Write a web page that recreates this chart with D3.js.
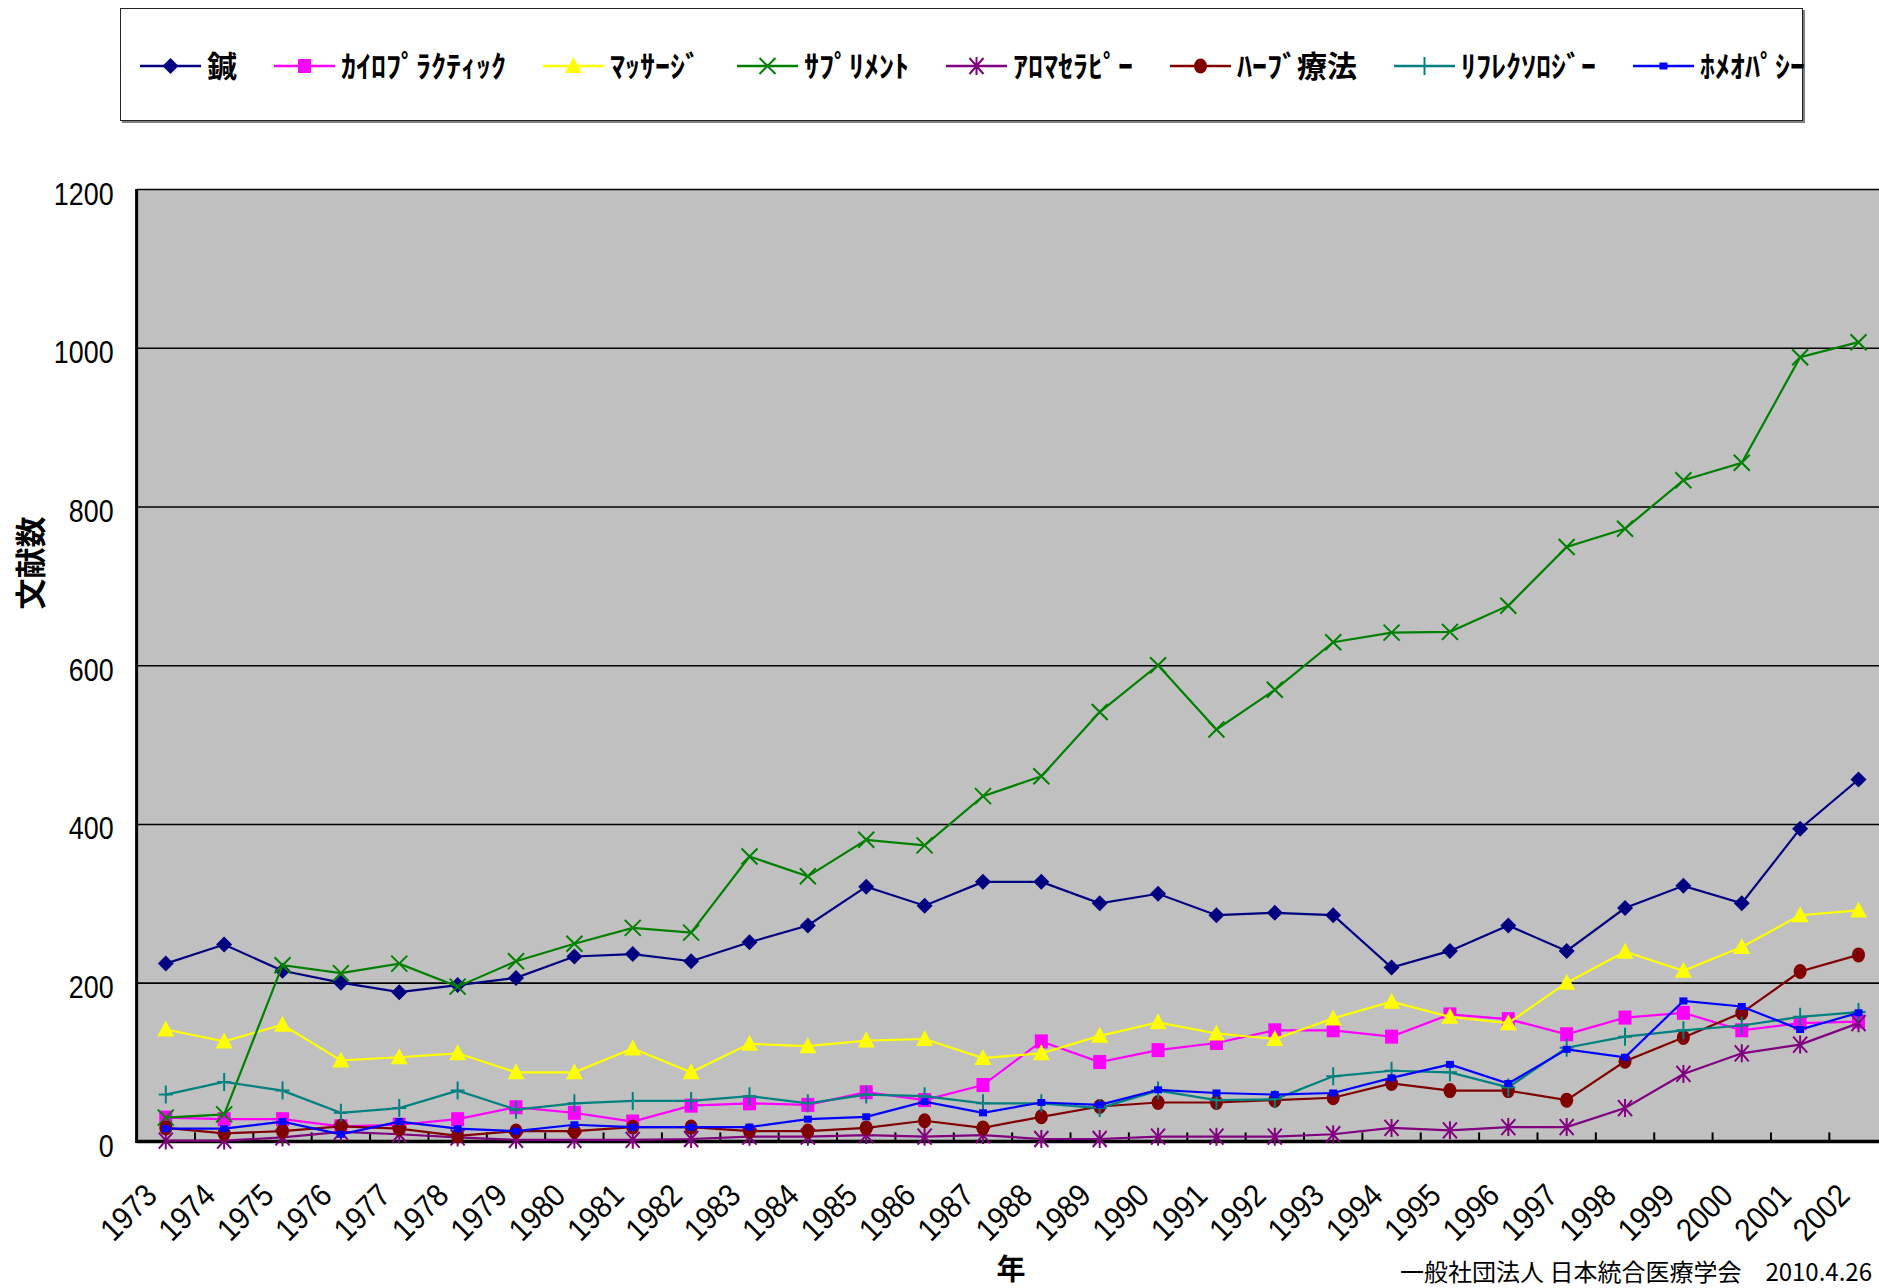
<!DOCTYPE html>
<html>
<head>
<meta charset="utf-8">
<script src="https://cdn.jsdelivr.net/npm/d3@7"></script>
<style>
  html, body { margin: 0; padding: 0; background: #fff; }
  svg { display: block; }
</style>
</head>
<body>
<svg id="chart" width="1879" height="1288"></svg>
<script>
var years = d3.range(1973, 2003);
var seriesNames = ["鍼", "ｶｲﾛﾌﾟﾗｸﾃｨｯｸ", "ﾏｯｻｰｼﾞ", "ｻﾌﾟﾘﾒﾝﾄ", "ｱﾛﾏｾﾗﾋﾟｰ", "ﾊｰﾌﾞ療法", "ﾘﾌﾚｸｿﾛｼﾞｰ", "ﾎﾒｵﾊﾟｼｰ"];

var hari       = [224, 248, 215, 200, 188, 197, 206, 233, 236, 227, 251, 272, 321, 297, 327, 327, 300, 312, 285, 288, 285, 219, 240, 272, 240, 294, 322, 300, 394, 456];
var chiro      = [30, 28, 28, 19, 21, 28, 43, 36, 25, 45, 48, 46, 62, 52, 71, 126, 100, 115, 124, 140, 140, 132, 160, 154, 135, 156, 162, 140, 149, 151];
var massage    = [141, 126, 147, 102, 106, 111, 87, 87, 117, 87, 123, 120, 127, 129, 105, 111, 133, 150, 136, 129, 155, 176, 157, 149, 200, 239, 215, 245, 285, 291];
var supplement = [30, 34, 222, 212, 224, 195, 227, 249, 269, 263, 359, 334, 380, 373, 435, 460, 541, 600, 519, 569, 629, 641, 642, 675, 749, 772, 833, 855, 988, 1007];
var aroma      = [1, 1, 5, 12, 9, 5, 2, 2, 2, 3, 6, 6, 8, 6, 8, 3, 3, 6, 6, 6, 9, 17, 14, 18, 18, 42, 85, 111, 122, 149];
var herb       = [17, 10, 13, 19, 16, 7, 13, 13, 18, 18, 13, 13, 17, 26, 17, 31, 44, 49, 49, 52, 55, 73, 64, 64, 52, 101, 131, 162, 214, 235];
var reflex     = [59, 75, 64, 36, 42, 64, 40, 48, 51, 51, 57, 48, 59, 57, 48, 48, 42, 64, 52, 53, 82, 89, 87, 68, 118, 132, 140, 146, 157, 163];
var homeo      = [16, 16, 25, 9, 25, 16, 13, 21, 18, 18, 18, 28, 31, 50, 36, 49, 46, 65, 61, 59, 61, 80, 97, 73, 116, 106, 177, 170, 141, 162];

var yTicks = [0, 200, 400, 600, 800, 1000, 1200];
var yTitle = "文献数";
var xTitle = "年";
var credit = "一般社団法人 日本統合医療学会　2010.4.26";

(function () {
  var colors = ["#000080", "#ff00ff", "#ffff00", "#008000", "#800080", "#800000", "#008080", "#0000ff"];
  var shapes = ["diamond", "square", "triangle", "cross", "asterisk", "circle", "plus", "dash"];
  var values = [hari, chiro, massage, supplement, aroma, herb, reflex, homeo];

  var series = seriesNames.map(function(name, i) {
    return {name: name, color: colors[i], shape: shapes[i], values: values[i]};
  });

  var svg = d3.select("#chart");
  var plotLeft = 136.6, plotTop = 189, plotBottom = 1141.4, step = 58.37;
  var plotRight = plotLeft + step * years.length;

  var x = d3.scaleBand().domain(years).range([plotLeft, plotRight]).padding(0);
  var y = d3.scaleLinear().domain([0, 1200]).range([plotBottom, plotTop]);
  function cx(i) { return x(years[i]) + x.bandwidth() / 2; }

  var numFont = "'Liberation Sans', Arial, sans-serif";
  var jpFont = "'Noto Sans CJK JP', sans-serif";

  // legend box
  var legend = svg.append("g");
  legend.append("rect")
    .attr("x", 122).attr("y", 10).attr("width", 1683).attr("height", 113)
    .attr("fill", "#808080");
  legend.append("rect")
    .attr("x", 120.5).attr("y", 8.5).attr("width", 1682).attr("height", 112)
    .attr("fill", "#fff").attr("stroke", "#222").attr("stroke-width", 1);

  // plot area
  svg.append("rect")
    .attr("x", plotLeft).attr("y", plotTop)
    .attr("width", plotRight - plotLeft).attr("height", plotBottom - plotTop)
    .attr("fill", "#c0c0c0");

  var grid = svg.append("g")
    .attr("transform", "translate(" + plotLeft + ",0)")
    .call(d3.axisLeft(y).tickValues(yTicks.slice(1)).tickSize(-(plotRight - plotLeft)).tickFormat(""));
  grid.select(".domain").remove();
  grid.selectAll("line").attr("stroke", "#000").attr("stroke-width", 1.6);

  // y axis labels
  var yaxis = svg.append("g")
    .attr("transform", "translate(" + plotLeft + ",0)")
    .call(d3.axisLeft(y).tickValues(yTicks).tickSize(0).tickFormat(d3.format("d")));
  yaxis.select(".domain").remove();
  yaxis.selectAll("text")
    .attr("x", null).attr("dy", null)
    .attr("transform", "translate(-23,15) scale(0.84,1)")
    .attr("font-family", numFont).attr("font-size", 32).attr("fill", "#000");

  // x ticks at category boundaries, pointing inward
  var bounds = years.map(function(d) { return x(d); }).slice(1).concat([plotRight]);
  svg.append("g").selectAll("line")
    .data(bounds)
    .enter().append("line")
      .attr("x1", function(d) { return d; })
      .attr("x2", function(d) { return d; })
      .attr("y1", plotBottom).attr("y2", plotBottom - 9)
      .attr("stroke", "#000").attr("stroke-width", 2);

  // x labels
  svg.append("g").selectAll("text")
    .data(years)
    .enter().append("text")
      .attr("transform", function(d, i) {
        return "translate(" + (cx(i) - 7) + "," + (plotBottom + 56) + ") rotate(-45) scale(0.9,1)";
      })
      .attr("text-anchor", "end")
      .attr("font-family", numFont).attr("font-size", 32)
      .text(function(d) { return d; });

  // axis lines
  svg.append("line")
    .attr("x1", plotLeft).attr("x2", plotLeft).attr("y1", plotTop).attr("y2", plotBottom + 1.5)
    .attr("stroke", "#000").attr("stroke-width", 3);
  svg.append("line")
    .attr("x1", plotLeft).attr("x2", plotRight).attr("y1", plotBottom).attr("y2", plotBottom)
    .attr("stroke", "#000").attr("stroke-width", 3.5);

  function marker(g, shape, color) {
    switch (shape) {
      case "diamond":
        g.append("path").attr("d", "M0,-8L8,0L0,8L-8,0Z").attr("fill", color);
        break;
      case "square":
        g.append("rect").attr("x", -6.5).attr("y", -7).attr("width", 13).attr("height", 14).attr("fill", color);
        break;
      case "triangle":
        g.append("path").attr("d", "M0,-9L8.5,7L-8.5,7Z").attr("fill", color);
        break;
      case "cross":
        g.append("path").attr("d", "M-8,-8L8,8M-8,8L8,-8").attr("stroke", color).attr("stroke-width", 2);
        break;
      case "asterisk":
        g.append("path").attr("d", "M-7,-8L7,8M-7,8L7,-8M0,-9L0,9").attr("stroke", color).attr("stroke-width", 2);
        break;
      case "circle":
        g.append("ellipse").attr("rx", 6.5).attr("ry", 7.5).attr("fill", color);
        break;
      case "plus":
        g.append("path").attr("d", "M-7,0L7,0M0,-9L0,9").attr("stroke", color).attr("stroke-width", 2);
        break;
      case "dash":
        g.append("rect").attr("x", -4).attr("y", -3.5).attr("width", 8).attr("height", 7).attr("fill", color);
        break;
    }
  }

  var line = d3.line()
    .x(function(d, i) { return cx(i); })
    .y(function(d) { return y(d); });

  var plot = svg.append("g");
  series.forEach(function(s) {
    var g = plot.append("g");
    g.append("path")
      .attr("d", line(s.values))
      .attr("fill", "none").attr("stroke", s.color).attr("stroke-width", 2.2);
    s.values.forEach(function(v, i) {
      marker(g.append("g").attr("transform", "translate(" + cx(i) + "," + y(v) + ")"), s.shape, s.color);
    });
  });

  // legend items
  var lx = 140, ly = 66;
  series.forEach(function(s) {
    var item = legend.append("g");
    item.append("line")
      .attr("x1", lx).attr("x2", lx + 61).attr("y1", ly).attr("y2", ly)
      .attr("stroke", s.color).attr("stroke-width", 2.5);
    marker(item.append("g").attr("transform", "translate(" + (lx + 30.5) + "," + ly + ")"), s.shape, s.color);
    var t = item.append("text")
      .attr("x", lx + 67).attr("y", ly + 11)
      .attr("font-family", jpFont).attr("font-size", 30).attr("font-weight", "bold")
      .text(s.name);
    lx = lx + 67 + t.node().getComputedTextLength() + 37;
  });

  // titles
  svg.append("text")
    .attr("transform", "translate(42,563) rotate(-90)")
    .attr("text-anchor", "middle")
    .attr("font-family", jpFont).attr("font-size", 31).attr("font-weight", "bold")
    .text(yTitle);

  svg.append("text")
    .attr("x", 1011).attr("y", 1280)
    .attr("text-anchor", "middle")
    .attr("font-family", jpFont).attr("font-size", 29).attr("font-weight", "bold")
    .text(xTitle);

  svg.append("text")
    .attr("x", 1872).attr("y", 1281)
    .attr("text-anchor", "end")
    .attr("font-family", jpFont).attr("font-size", 24)
    .text(credit);
})();
</script>
</body>
</html>
